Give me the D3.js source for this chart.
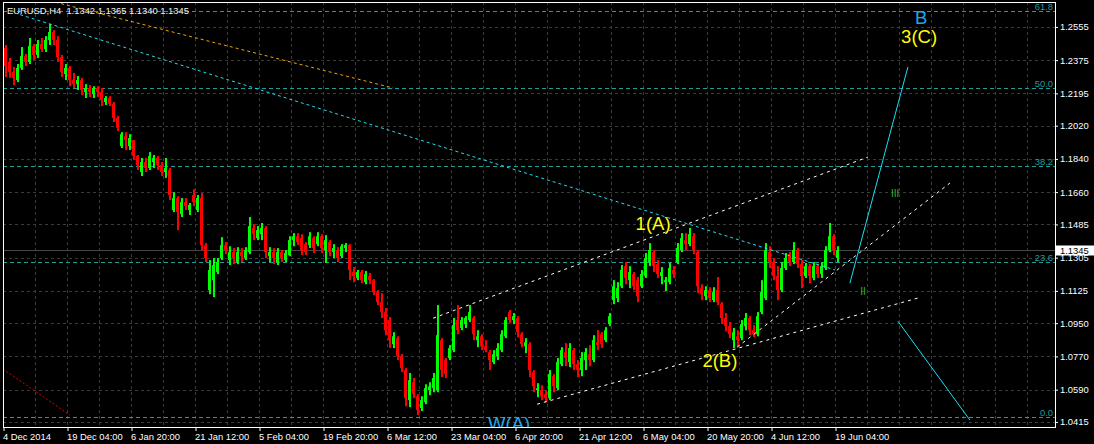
<!DOCTYPE html>
<html><head><meta charset="utf-8">
<script src="https://cdn.jsdelivr.net/npm/d3@7"></script>
<style>
html,body{margin:0;padding:0;background:#000;}
svg{display:block;}
text{font-family:"Liberation Sans",Arial,sans-serif;}
</style></head><body>
<svg id="c" width="1094" height="444"></svg>
<script>
// ---- data (EURUSD H4, grouped candles) ----
const opens=[1.2441,1.2365,1.2311,1.2267,1.2333,1.2397,1.2365,1.2451,1.2403,1.2462,1.2435,1.2484,1.2527,1.2484,1.2392,1.2300,1.2333,1.2267,1.2245,1.2267,1.2202,1.2224,1.2191,1.2224,1.2202,1.2148,1.2170,1.2137,1.2062,1.1909,1.1963,1.1909,1.1942,1.1855,1.1769,1.1823,1.1791,1.1823,1.1845,1.1807,1.1769,1.1780,1.1563,1.1628,1.1541,1.1606,1.1563,1.1644,1.1563,1.1628,1.1373,1.1129,1.1183,1.1227,1.1303,1.1373,1.1292,1.1335,1.1281,1.1335,1.1303,1.1335,1.1466,1.1411,1.1432,1.1466,1.1313,1.1335,1.1281,1.1335,1.1292,1.1319,1.1400,1.1421,1.1411,1.1378,1.1373,1.1411,1.1378,1.1421,1.1346,1.1389,1.1335,1.1346,1.1313,1.1357,1.1373,1.1227,1.1195,1.1227,1.1172,1.1205,1.1183,1.1118,1.1064,1.1010,1.0967,1.0836,1.0869,1.0771,1.0696,1.0533,1.0630,1.0554,1.0490,1.0522,1.0587,1.0598,1.0587,1.0858,1.0750,1.0761,1.0804,1.0967,1.0924,1.0945,1.0967,1.0978,1.0858,1.0879,1.0825,1.0793,1.0739,1.0771,1.0804,1.0879,1.1010,1.0967,1.0978,1.0890,1.0825,1.0836,1.0685,1.0587,1.0587,1.0565,1.0544,1.0663,1.0598,1.0728,1.0793,1.0739,1.0804,1.0728,1.0696,1.0750,1.0782,1.0750,1.0847,1.0890,1.0858,1.0945,1.1075,1.1086,1.1150,1.1259,1.1183,1.1216,1.1183,1.1150,1.1205,1.1281,1.1335,1.1270,1.1205,1.1172,1.1172,1.1238,1.1281,1.1346,1.1400,1.1378,1.1421,1.1335,1.1140,1.1096,1.1129,1.1075,1.1129,1.1053,1.0978,1.0934,1.0858,1.0879,1.0869,1.0934,1.0978,1.0912,1.0890,1.1010,1.1086,1.1335,1.1281,1.1205,1.1129,1.1249,1.1324,1.1281,1.1346,1.1270,1.1205,1.1259,1.1195,1.1259,1.1216,1.1249,1.1346,1.1421,1.1303];
const highs=[1.2457,1.2387,1.2338,1.2354,1.2446,1.2408,1.2495,1.2462,1.2484,1.2495,1.2505,1.2571,1.2538,1.2505,1.2403,1.2354,1.2343,1.2306,1.2289,1.2279,1.2245,1.2240,1.2234,1.2234,1.2224,1.2180,1.2180,1.2148,1.2072,1.1985,1.1985,1.1974,1.1942,1.1861,1.1845,1.1845,1.1877,1.1861,1.1855,1.1823,1.1845,1.1791,1.1660,1.1638,1.1628,1.1628,1.1601,1.1676,1.1644,1.1655,1.1384,1.1292,1.1303,1.1303,1.1416,1.1389,1.1367,1.1357,1.1362,1.1357,1.1362,1.1525,1.1487,1.1476,1.1493,1.1476,1.1362,1.1357,1.1357,1.1346,1.1346,1.1421,1.1438,1.1438,1.1432,1.1389,1.1443,1.1421,1.1443,1.1432,1.1427,1.1400,1.1378,1.1362,1.1378,1.1384,1.1378,1.1254,1.1238,1.1238,1.1233,1.1222,1.1189,1.1129,1.1113,1.1032,1.0983,1.0901,1.0879,1.0782,1.0707,1.0680,1.0653,1.0565,1.0554,1.0619,1.0630,1.0680,1.1048,1.0869,1.0761,1.0831,1.0978,1.1048,1.0983,1.0988,1.1048,1.0988,1.0912,1.0890,1.0858,1.0804,1.0804,1.0842,1.0912,1.0983,1.1021,1.1005,1.0988,1.0901,1.0869,1.0847,1.0696,1.0625,1.0614,1.0587,1.0696,1.0674,1.0761,1.0820,1.0842,1.0842,1.0815,1.0750,1.0793,1.0815,1.0831,1.0885,1.0912,1.0901,1.0929,1.1005,1.1183,1.1172,1.1265,1.1281,1.1259,1.1227,1.1200,1.1238,1.1330,1.1384,1.1346,1.1292,1.1254,1.1200,1.1276,1.1259,1.1384,1.1438,1.1438,1.1466,1.1438,1.1346,1.1161,1.1150,1.1145,1.1145,1.1200,1.1064,1.1005,1.0956,1.0924,1.0912,1.0967,1.1005,1.0988,1.0940,1.1010,1.1183,1.1384,1.1367,1.1303,1.1259,1.1281,1.1330,1.1335,1.1389,1.1357,1.1292,1.1276,1.1270,1.1281,1.1270,1.1281,1.1367,1.1493,1.1432,1.1367];
const lows=[1.2284,1.2279,1.2240,1.2256,1.2322,1.2343,1.2354,1.2376,1.2387,1.2419,1.2419,1.2457,1.2457,1.2365,1.2284,1.2267,1.2234,1.2224,1.2213,1.2186,1.2170,1.2175,1.2170,1.2175,1.2126,1.2132,1.2126,1.2040,1.1991,1.1899,1.1888,1.1888,1.1834,1.1780,1.1747,1.1769,1.1780,1.1791,1.1780,1.1747,1.1737,1.1617,1.1552,1.1454,1.1525,1.1563,1.1536,1.1584,1.1552,1.1346,1.1281,1.1107,1.1091,1.1216,1.1292,1.1324,1.1265,1.1270,1.1270,1.1281,1.1292,1.1324,1.1400,1.1400,1.1400,1.1303,1.1281,1.1270,1.1265,1.1281,1.1281,1.1313,1.1367,1.1373,1.1319,1.1319,1.1357,1.1330,1.1367,1.1330,1.1276,1.1313,1.1303,1.1281,1.1303,1.1335,1.1183,1.1172,1.1183,1.1167,1.1161,1.1161,1.1102,1.1048,1.0978,1.0885,1.0815,1.0815,1.0750,1.0685,1.0500,1.0495,1.0544,1.0452,1.0474,1.0511,1.0560,1.0576,1.0576,1.0658,1.0653,1.0750,1.0793,1.0890,1.0912,1.0924,1.0956,1.0858,1.0820,1.0804,1.0793,1.0696,1.0728,1.0750,1.0793,1.0869,1.0951,1.0945,1.0874,1.0820,1.0788,1.0658,1.0576,1.0549,1.0533,1.0522,1.0533,1.0576,1.0587,1.0717,1.0717,1.0712,1.0696,1.0658,1.0663,1.0696,1.0717,1.0739,1.0804,1.0815,1.0847,1.0934,1.1053,1.1064,1.1140,1.1161,1.1140,1.1129,1.1064,1.1140,1.1195,1.1259,1.1227,1.1195,1.1161,1.1124,1.1161,1.1195,1.1270,1.1335,1.1346,1.1367,1.1324,1.1113,1.1075,1.1075,1.1064,1.1064,1.1048,1.0945,1.0907,1.0869,1.0815,1.0825,1.0858,1.0912,1.0885,1.0874,1.0879,1.0999,1.1075,1.1249,1.1183,1.1075,1.1118,1.1238,1.1259,1.1270,1.1249,1.1140,1.1195,1.1167,1.1183,1.1195,1.1195,1.1238,1.1335,1.1319,1.1281];
const closes=[1.2343,1.2311,1.2279,1.2333,1.2397,1.2365,1.2451,1.2403,1.2462,1.2435,1.2484,1.2527,1.2484,1.2392,1.2311,1.2333,1.2267,1.2245,1.2267,1.2213,1.2224,1.2202,1.2224,1.2202,1.2159,1.2170,1.2137,1.2062,1.2008,1.1974,1.1942,1.1953,1.1855,1.1807,1.1823,1.1791,1.1855,1.1845,1.1807,1.1769,1.1791,1.1644,1.1628,1.1552,1.1606,1.1584,1.1590,1.1606,1.1628,1.1373,1.1303,1.1238,1.1265,1.1281,1.1373,1.1346,1.1335,1.1303,1.1335,1.1313,1.1346,1.1476,1.1432,1.1454,1.1466,1.1335,1.1335,1.1303,1.1335,1.1303,1.1330,1.1400,1.1421,1.1389,1.1346,1.1335,1.1421,1.1357,1.1421,1.1357,1.1400,1.1335,1.1357,1.1303,1.1367,1.1373,1.1238,1.1205,1.1227,1.1183,1.1216,1.1183,1.1118,1.1064,1.1010,1.0912,1.0858,1.0879,1.0771,1.0707,1.0544,1.0641,1.0565,1.0479,1.0533,1.0598,1.0608,1.0653,1.0885,1.0696,1.0674,1.0815,1.0940,1.0912,1.0967,1.0978,1.1010,1.0890,1.0879,1.0825,1.0804,1.0750,1.0782,1.0815,1.0890,1.0967,1.0967,1.0988,1.0901,1.0836,1.0847,1.0696,1.0608,1.0598,1.0554,1.0544,1.0674,1.0608,1.0739,1.0804,1.0761,1.0815,1.0728,1.0696,1.0761,1.0793,1.0750,1.0858,1.0831,1.0836,1.0912,1.0988,1.1150,1.1140,1.1238,1.1195,1.1227,1.1150,1.1096,1.1216,1.1303,1.1346,1.1259,1.1216,1.1227,1.1183,1.1249,1.1216,1.1357,1.1411,1.1378,1.1432,1.1346,1.1150,1.1107,1.1129,1.1086,1.1118,1.1064,1.0978,1.0934,1.0890,1.0901,1.0858,1.0945,1.0978,1.0912,1.0890,1.0988,1.1118,1.1346,1.1281,1.1205,1.1129,1.1249,1.1303,1.1281,1.1346,1.1270,1.1205,1.1259,1.1205,1.1259,1.1216,1.1259,1.1346,1.1421,1.1346,1.1345];

const priceTicks=[1.2555,1.2375,1.2195,1.2020,1.1840,1.1660,1.1485,1.1305,1.1125,1.0950,1.0770,1.0590,1.0415];
const dateLabels=["4 Dec 2014","19 Dec 04:00","6 Jan 20:00","21 Jan 12:00","5 Feb 04:00","19 Feb 20:00","6 Mar 12:00","23 Mar 04:00","6 Apr 20:00","21 Apr 12:00","6 May 04:00","20 May 20:00","4 Jun 12:00","19 Jun 04:00"];
const fibLevels=[0,23.6,38.2,50,61.8];
const fibLow=1.0443, fibHigh=1.4000;
const lastPrice=1.1345;
const headerText="EURUSD,H4  1.1342 1.1365 1.1340 1.1345";

// trend lines: [bar index, price] anchors
const lineIds=["orangeDiag","cyanDiag","channelTop","channelBottom","wedge","projUp","projDown","redOld"];
const lineFrom=[[11.5,1.2697],[2.75,1.2631],[107.4,1.0977],[133.4,1.0511],[183.4,1.0820],[211.6,1.1167],[223.6,1.0961],[-0.1,1.0701]];
const lineTo=[[97.4,1.2224],[207.9,1.1238],[216.1,1.1850],[229.4,1.1091],[236.6,1.1709],[226.1,1.2338],[241.6,1.0425],[16.6,1.0452]];

// wave labels
const waveText=["1(A)","2(B)","B","3(C)","W(A)","III","II"];
const waveBar=[162.4,179.1,229.4,228.9,126.4,222.9,214.9];
const wavePrice=[1.1454,1.0712,1.2571,1.2468,1.0370,1.1633,1.1102];

// ---- styles ----
const lineStyle={
  orangeDiag:{stroke:"#f5a500",dash:"3,3"},
  cyanDiag:{stroke:"#20e0f0",dash:"3,3"},
  channelTop:{stroke:"#ffffff",dash:"3,4"},
  channelBottom:{stroke:"#ffffff",dash:"3,4"},
  wedge:{stroke:"#ffffff",dash:"3,4"},
  projUp:{stroke:"#18e0f4",dash:null},
  projDown:{stroke:"#18e0f4",dash:null},
  redOld:{stroke:"#e00000",dash:"2,2"}
};
const waveColor=["#ffff00","#ffff00","#22a6ea","#ffff00","#22a6ea","#2eb82e","#2eb82e"];
const waveSize=[18.5,18.5,18.5,18.5,18.5,10,10];

const svg=d3.select("#c");
const L=3,T=2,R=1055,B=427;
const x=d3.scaleLinear().domain([0,209]).range([3.5,839.5]);
const y=d3.scaleLinear().domain([1.0393,1.2690]).range([426,2]);

svg.append("rect").attr("width",1094).attr("height",444).attr("fill","#000");
svg.append("defs").append("clipPath").attr("id","plot")
  .append("rect").attr("x",L).attr("y",T).attr("width",R-L).attr("height",B-T);

const plot=svg.append("g").attr("clip-path","url(#plot)");

// grid
const gridColor="#363e36";
const vBars=d3.range(8,300,8).filter(b=>x(b)<R);
plot.selectAll("line.vg").data(vBars).join("line").attr("class","vg")
  .attr("x1",d=>x(d)).attr("x2",d=>x(d)).attr("y1",T).attr("y2",B)
  .attr("stroke",gridColor).attr("stroke-dasharray","3,3");
plot.selectAll("line.hg").data(priceTicks).join("line").attr("class","hg")
  .attr("x1",L).attr("x2",R).attr("y1",d=>Math.round(y(d))+0.5).attr("y2",d=>Math.round(y(d))+0.5)
  .attr("stroke",gridColor).attr("stroke-dasharray","3,3");

// fibonacci levels
const fibColor="#1f9c9c";
const fibY=l=>Math.round(y(fibLow+(fibHigh-fibLow)*l/100))+0.5;
plot.selectAll("line.fib").data(fibLevels).join("line").attr("class","fib")
  .attr("x1",L).attr("x2",R).attr("y1",fibY).attr("y2",fibY)
  .attr("stroke",fibColor).attr("stroke-dasharray","4,3");
plot.selectAll("text.fib").data(fibLevels).join("text").attr("class","fib")
  .attr("x",1053).attr("y",d=>fibY(d)-2).attr("text-anchor","end")
  .attr("font-size","9.4px").attr("fill",fibColor).text(d=>d.toFixed(1));

// current price line
plot.append("line").attr("x1",L).attr("x2",R)
  .attr("y1",Math.round(y(lastPrice))+0.5).attr("y2",Math.round(y(lastPrice))+0.5)
  .attr("stroke","#474747");

// header
plot.append("text").attr("x",7).attr("y",14).attr("font-size","9.4px")
  .attr("fill","#f0f0f0").attr("xml:space","preserve").style("white-space","pre").text(headerText);

// candles
const idx=d3.range(closes.length);
const col=i=>closes[i]>=opens[i]?"#00ff00":"#ff0000";
plot.selectAll("rect.wick").data(idx).join("rect").attr("class","wick")
  .attr("x",i=>x(i)+1.5).attr("width",2)
  .attr("y",i=>y(highs[i])).attr("height",i=>Math.max(1,y(lows[i])-y(highs[i])))
  .attr("fill",col);
plot.selectAll("rect.body").data(idx).join("rect").attr("class","body")
  .attr("x",i=>x(i)+0.5).attr("width",3)
  .attr("y",i=>y(Math.max(opens[i],closes[i])))
  .attr("height",i=>Math.max(1,Math.abs(y(opens[i])-y(closes[i]))))
  .attr("fill",col);

// trend lines
plot.selectAll("line.tl").data(lineIds).join("line").attr("class","tl")
  .attr("x1",(d,i)=>x(lineFrom[i][0])).attr("y1",(d,i)=>y(lineFrom[i][1]))
  .attr("x2",(d,i)=>x(lineTo[i][0])).attr("y2",(d,i)=>y(lineTo[i][1]))
  .attr("stroke",d=>lineStyle[d].stroke)
  .attr("stroke-dasharray",d=>lineStyle[d].dash)
  .attr("stroke-width",1);

// wave labels
plot.selectAll("text.wave").data(waveText).join("text").attr("class","wave")
  .attr("x",(d,i)=>x(waveBar[i])).attr("y",(d,i)=>y(wavePrice[i]))
  .attr("text-anchor","middle").attr("font-size",(d,i)=>waveSize[i]+"px")
  .attr("fill",(d,i)=>waveColor[i]).text(d=>d);

// frame
svg.append("line").attr("x1",L+0.5).attr("x2",L+0.5).attr("y1",T).attr("y2",B+1).attr("stroke","#fff");
svg.append("line").attr("x1",L).attr("x2",R+1).attr("y1",T+0.5).attr("y2",T+0.5).attr("stroke","#fff");

// right price axis
const ya=svg.append("g").attr("transform",`translate(${R},0)`)
  .call(d3.axisRight(y).tickValues(priceTicks).tickFormat(d3.format(".4f")).tickSize(3).tickSizeOuter(0).tickPadding(2));
ya.select(".domain").remove();
ya.append("line").attr("x1",0.5).attr("x2",0.5).attr("y1",T).attr("y2",B+1).attr("stroke","#fff");
ya.selectAll(".tick line").attr("stroke","#fff");
ya.selectAll(".tick text").attr("fill","#fff").attr("font-size","9.4px").attr("font-family","Liberation Sans, Arial, sans-serif");

// current price box (covers part of the neighbouring tick label, as in the terminal)
const cy=Math.round(y(lastPrice));
svg.append("rect").attr("x",1056).attr("y",cy-4.5).attr("width",38).attr("height",10).attr("fill","#fff");
svg.append("text").attr("x",1060).attr("y",cy+0.5).attr("dy","0.35em").attr("font-size","9.4px")
  .attr("fill","#000").text(d3.format(".4f")(lastPrice));

// bottom time axis
const tickBars=dateLabels.map((d,k)=>k*16);
const xa=svg.append("g").attr("transform",`translate(0,${B})`)
  .call(d3.axisBottom(x).tickValues(tickBars).tickFormat(d=>dateLabels[d/16]).tickSize(4).tickSizeOuter(0).tickPadding(2));
xa.select(".domain").remove();
xa.append("line").attr("x1",L).attr("x2",R+1).attr("y1",0.5).attr("y2",0.5).attr("stroke","#fff");
xa.selectAll(".tick line").attr("stroke","#fff");
xa.selectAll(".tick text").attr("fill","#fff").attr("font-size","9.4px").attr("text-anchor","start")
  .attr("x",-1).attr("font-family","Liberation Sans, Arial, sans-serif");
</script>
</body></html>
